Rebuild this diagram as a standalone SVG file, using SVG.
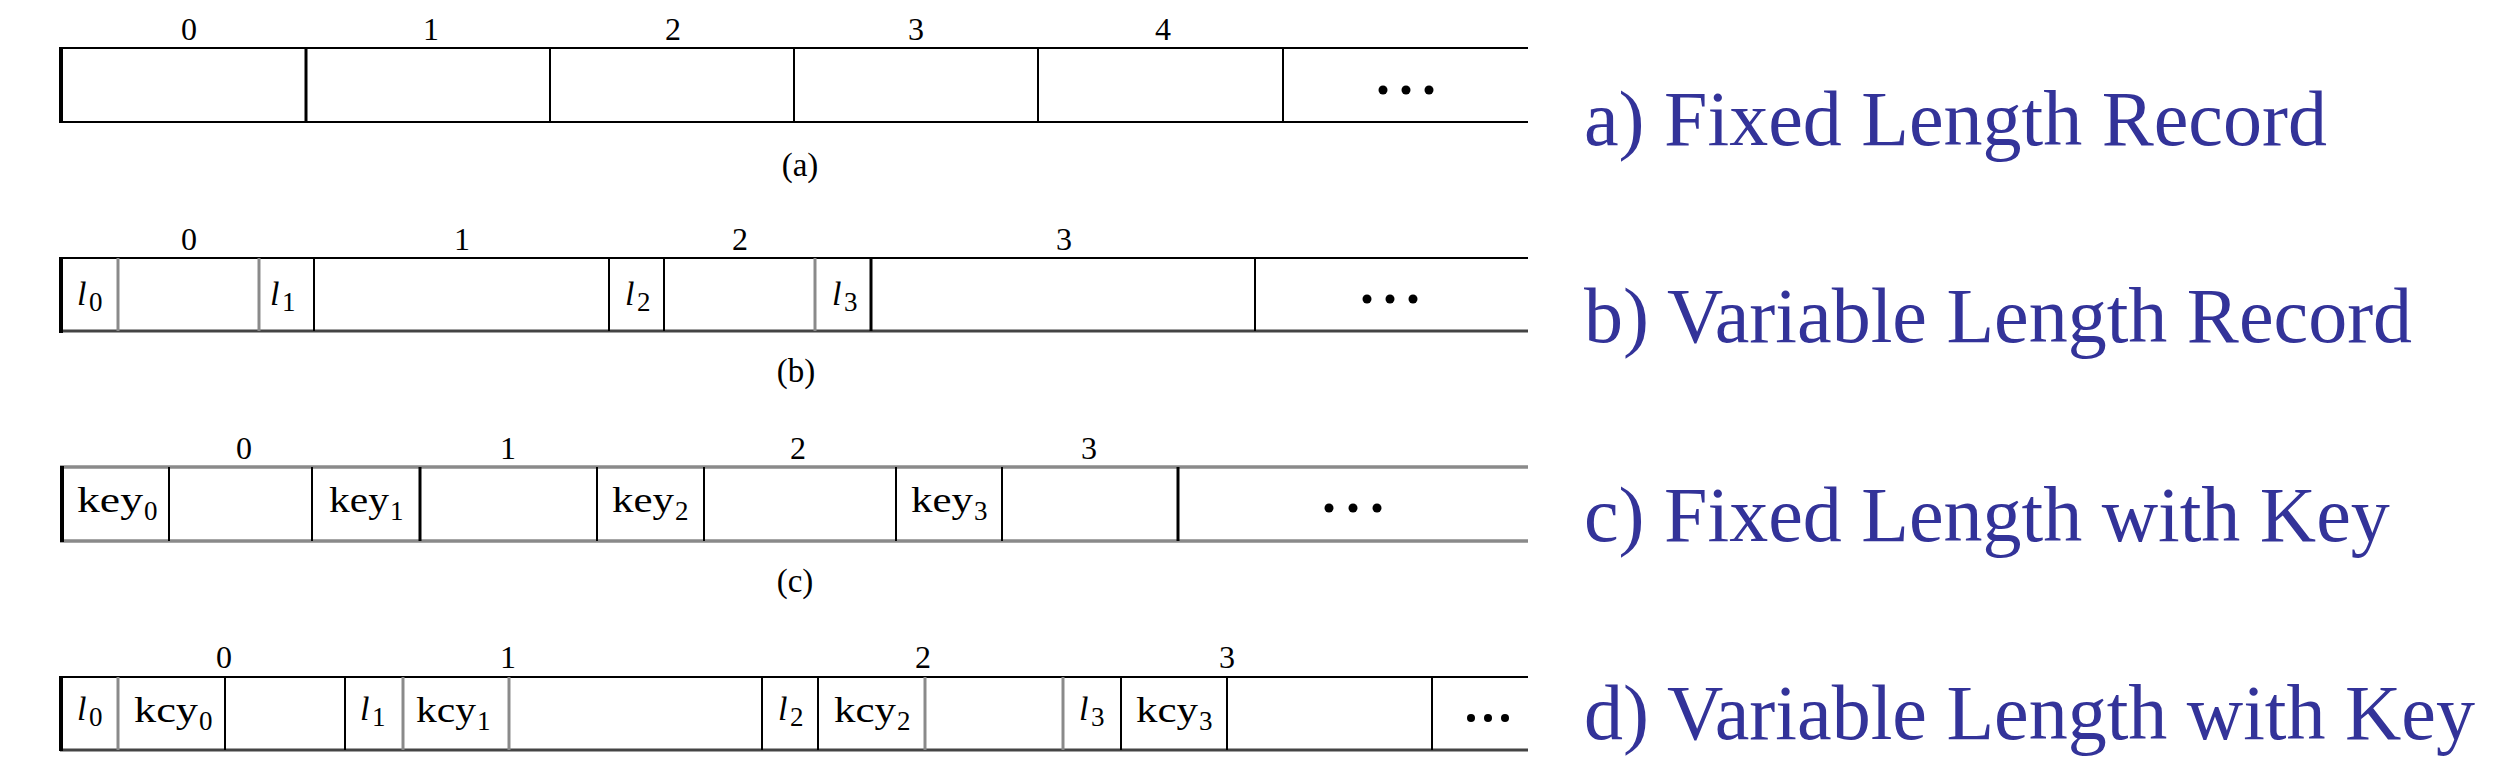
<svg xmlns="http://www.w3.org/2000/svg" width="2502" height="768" viewBox="0 0 2502 768">
<style>
.bk{stroke:#000;stroke-width:2;fill:none}
.bk3{stroke:#000;stroke-width:3;fill:none}
.gr{stroke:#8a8a8a;stroke-width:3;fill:none}
.edge{stroke:#000;stroke-width:4;fill:none}
.hb{stroke:#000;stroke-width:2}
.hd{stroke:#444;stroke-width:3}
.hg{stroke:#8a8a8a;stroke-width:3.5}
text{font-family:"Liberation Serif","Times New Roman",serif;fill:#000}
.num{font-size:32px;text-anchor:middle}
.cap{font-size:33px;text-anchor:middle}
.l{font-size:34px;font-style:italic}
.k{font-size:36px}
.s{font-size:27px}
.title{font-size:78px;fill:#333399}
.dot{fill:#000}
</style>
<rect width="2502" height="768" fill="#fff"/>

<g id="row-a">
  <line class="hb" x1="60" y1="48" x2="1528" y2="48"/>
  <line class="hb" x1="60" y1="122" x2="1528" y2="122"/>
  <line class="edge" x1="61" y1="47" x2="61" y2="123"/>
  <line class="bk3" x1="306" y1="48" x2="306" y2="122"/>
  <line class="bk" x1="550" y1="48" x2="550" y2="122"/>
  <line class="bk" x1="794" y1="48" x2="794" y2="122"/>
  <line class="bk" x1="1038" y1="48" x2="1038" y2="122"/>
  <line class="bk" x1="1283" y1="48" x2="1283" y2="122"/>
  <text class="num" x="189" y="40">0</text>
  <text class="num" x="431" y="40">1</text>
  <text class="num" x="673" y="40">2</text>
  <text class="num" x="916" y="40">3</text>
  <text class="num" x="1163" y="40">4</text>
  <circle class="dot" cx="1383" cy="90" r="4.5"/>
  <circle class="dot" cx="1406" cy="90" r="4.5"/>
  <circle class="dot" cx="1429" cy="90" r="4.5"/>
  <text class="cap" x="800" y="176">(a)</text>
</g>

<g id="row-b">
  <line class="hb" x1="60" y1="258" x2="1528" y2="258"/>
  <line class="hd" x1="60" y1="331" x2="1528" y2="331"/>
  <line class="edge" x1="61" y1="257" x2="61" y2="333"/>
  <line class="gr" x1="118" y1="258" x2="118" y2="331"/>
  <line class="gr" x1="259" y1="258" x2="259" y2="331"/>
  <line class="bk" x1="314" y1="258" x2="314" y2="331"/>
  <line class="bk" x1="609" y1="258" x2="609" y2="331"/>
  <line class="bk" x1="664" y1="258" x2="664" y2="331"/>
  <line class="gr" x1="815" y1="258" x2="815" y2="331"/>
  <line class="bk3" x1="871" y1="258" x2="871" y2="331"/>
  <line class="bk" x1="1255" y1="258" x2="1255" y2="331"/>
  <text class="num" x="189" y="250">0</text>
  <text class="num" x="462" y="250">1</text>
  <text class="num" x="740" y="250">2</text>
  <text class="num" x="1064" y="250">3</text>
  <text class="l" x="77" y="305">l</text><text class="s" x="89" y="311">0</text>
  <text class="l" x="270" y="305">l</text><text class="s" x="282" y="311">1</text>
  <text class="l" x="625" y="305">l</text><text class="s" x="637" y="311">2</text>
  <text class="l" x="832" y="305">l</text><text class="s" x="844" y="311">3</text>
  <circle class="dot" cx="1367" cy="299" r="4.5"/>
  <circle class="dot" cx="1390" cy="299" r="4.5"/>
  <circle class="dot" cx="1413" cy="299" r="4.5"/>
  <text class="cap" x="796" y="382">(b)</text>
</g>

<g id="row-c">
  <line class="hg" x1="60" y1="467" x2="1528" y2="467"/>
  <line class="hg" x1="60" y1="541" x2="1528" y2="541"/>
  <line class="edge" x1="62" y1="466" x2="62" y2="542"/>
  <line class="bk" x1="169" y1="467" x2="169" y2="541"/>
  <line class="bk" x1="312" y1="467" x2="312" y2="541"/>
  <line class="bk3" x1="420" y1="467" x2="420" y2="541"/>
  <line class="bk" x1="597" y1="467" x2="597" y2="541"/>
  <line class="bk" x1="704" y1="467" x2="704" y2="541"/>
  <line class="bk" x1="896" y1="467" x2="896" y2="541"/>
  <line class="bk" x1="1002" y1="467" x2="1002" y2="541"/>
  <line class="bk3" x1="1178" y1="467" x2="1178" y2="541"/>
  <text class="num" x="244" y="459">0</text>
  <text class="num" x="508" y="459">1</text>
  <text class="num" x="798" y="459">2</text>
  <text class="num" x="1089" y="459">3</text>
  <text class="k" x="77" y="512" textLength="66" lengthAdjust="spacingAndGlyphs">key</text><text class="s" x="144" y="520">0</text>
  <text class="k" x="329" y="512" textLength="60" lengthAdjust="spacingAndGlyphs">key</text><text class="s" x="390" y="520">1</text>
  <text class="k" x="612" y="512" textLength="62" lengthAdjust="spacingAndGlyphs">key</text><text class="s" x="675" y="520">2</text>
  <text class="k" x="911" y="512" textLength="62" lengthAdjust="spacingAndGlyphs">key</text><text class="s" x="974" y="520">3</text>
  <circle class="dot" cx="1329" cy="508" r="4.5"/>
  <circle class="dot" cx="1353" cy="508" r="4.5"/>
  <circle class="dot" cx="1377" cy="508" r="4.5"/>
  <text class="cap" x="795" y="592">(c)</text>
</g>

<g id="row-d">
  <line class="hb" x1="60" y1="677" x2="1528" y2="677"/>
  <line class="hd" x1="60" y1="750" x2="1528" y2="750"/>
  <line class="edge" x1="61" y1="676" x2="61" y2="751"/>
  <line class="gr" x1="118" y1="677" x2="118" y2="750"/>
  <line class="bk" x1="225" y1="677" x2="225" y2="750"/>
  <line class="bk" x1="345" y1="677" x2="345" y2="750"/>
  <line class="gr" x1="403" y1="677" x2="403" y2="750"/>
  <line class="gr" x1="509" y1="677" x2="509" y2="750"/>
  <line class="bk" x1="762" y1="677" x2="762" y2="750"/>
  <line class="bk" x1="818" y1="677" x2="818" y2="750"/>
  <line class="gr" x1="925" y1="677" x2="925" y2="750"/>
  <line class="gr" x1="1063" y1="677" x2="1063" y2="750"/>
  <line class="bk" x1="1121" y1="677" x2="1121" y2="750"/>
  <line class="bk" x1="1227" y1="677" x2="1227" y2="750"/>
  <line class="bk" x1="1432" y1="677" x2="1432" y2="750"/>
  <text class="num" x="224" y="668">0</text>
  <text class="num" x="508" y="668">1</text>
  <text class="num" x="923" y="668">2</text>
  <text class="num" x="1227" y="668">3</text>
  <text class="l" x="77" y="720">l</text><text class="s" x="89" y="726">0</text>
  <text class="k" x="134" y="722" textLength="64" lengthAdjust="spacingAndGlyphs">kcy</text><text class="s" x="199" y="730">0</text>
  <text class="l" x="360" y="720">l</text><text class="s" x="372" y="726">1</text>
  <text class="k" x="416" y="722" textLength="60" lengthAdjust="spacingAndGlyphs">kcy</text><text class="s" x="477" y="730">1</text>
  <text class="l" x="778" y="720">l</text><text class="s" x="790" y="726">2</text>
  <text class="k" x="834" y="722" textLength="62" lengthAdjust="spacingAndGlyphs">kcy</text><text class="s" x="897" y="730">2</text>
  <text class="l" x="1079" y="720">l</text><text class="s" x="1091" y="726">3</text>
  <text class="k" x="1136" y="722" textLength="62" lengthAdjust="spacingAndGlyphs">kcy</text><text class="s" x="1199" y="730">3</text>
  <circle class="dot" cx="1471" cy="718" r="4"/>
  <circle class="dot" cx="1488" cy="718" r="4"/>
  <circle class="dot" cx="1505" cy="718" r="4"/>
</g>

<g id="titles">
  <text class="title" x="1584" y="145">a) Fixed Length Record</text>
  <text class="title" x="1584" y="342">b) Variable Length Record</text>
  <text class="title" x="1584" y="541">c) Fixed Length with Key</text>
  <text class="title" x="1584" y="739">d) Variable Length with Key</text>
</g>
</svg>
